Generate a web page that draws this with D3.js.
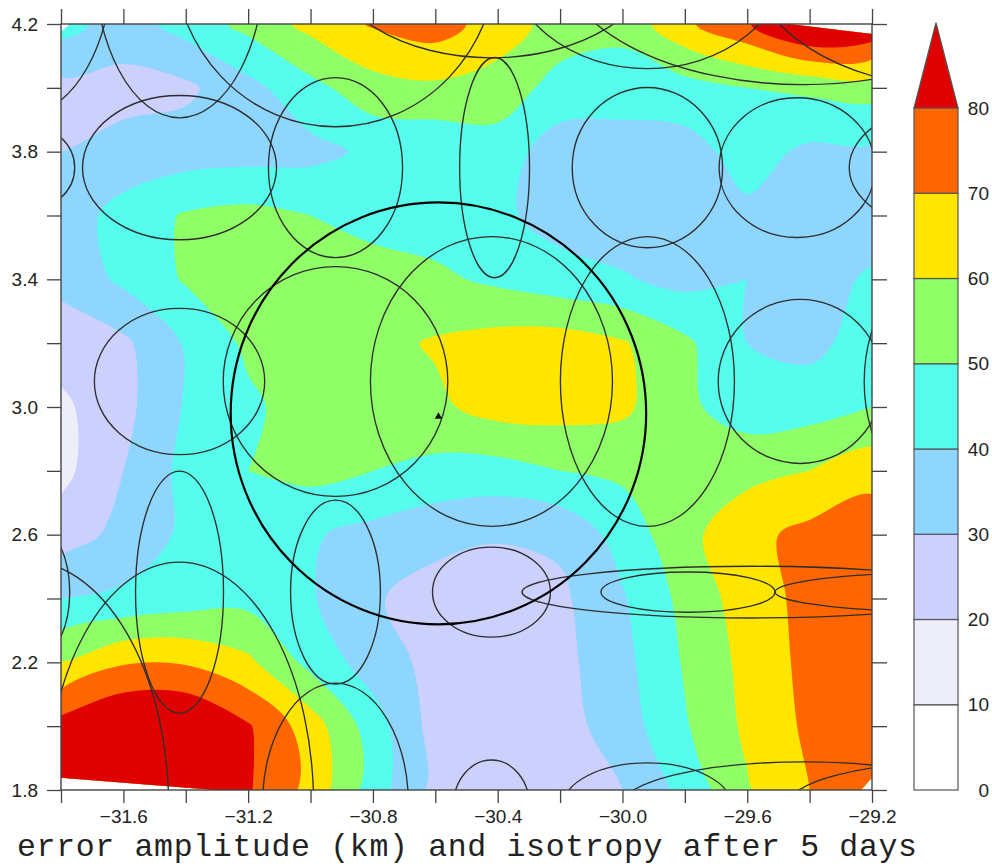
<!DOCTYPE html>
<html>
<head>
<meta charset="utf-8">
<script src="https://cdn.jsdelivr.net/npm/d3@7"></script>
<style>
  body { margin: 0; background: #ffffff; }
  .tick text { font-family: "Liberation Sans", Arial, sans-serif; font-size: 19px; fill: #222; }
  .tick line { stroke: #444; stroke-width: 1.3; }
</style>
</head>
<body>
<div id="chart"></div>
<script>
var svgWidth = 992;
var svgHeight = 866;

var margin = {
  top: 24,
  right: 120,
  bottom: 76,
  left: 61
};

var width = svgWidth - margin.left - margin.right;
var height = svgHeight - margin.top - margin.bottom;

// error amplitude (km) on the model grid, rows from 4.2 down to 1.8, columns from -31.8 to -29.2
var gridLon = [-31.8, -31.6, -31.4, -31.2, -31.0, -30.8, -30.6, -30.4, -30.2, -30.0, -29.8, -29.6, -29.4, -29.2];
var gridLat = [4.2, 4.0, 3.8, 3.6, 3.4, 3.2, 3.0, 2.8, 2.6, 2.4, 2.2, 2.0, 1.8];
var amplitude = [
  [44, 35, 44, 53, 63, 71, 75, 65, 56, 53, 68, 79, 95, 90],
  [27, 27, 28, 37, 47, 56, 58, 56, 46, 45, 46, 50, 52, 54],
  [30, 33, 35, 36, 37, 42, 42, 45, 35, 35, 36, 44, 38, 38],
  [34, 44, 51, 53, 50, 46, 45, 42, 36, 34, 34, 38, 36, 36],
  [33, 42, 51, 55, 56, 55, 52, 48, 44, 41, 37, 40, 37, 41],
  [24, 28, 41, 52, 56, 57, 61, 64, 65, 61, 52, 40, 37, 45],
  [18, 27, 41, 48, 55, 57, 58, 64, 64, 62, 52, 45, 46, 50],
  [17, 30, 43, 50, 53, 50, 47, 46, 50, 52, 55, 57, 60, 66],
  [25, 33, 42, 46, 41, 37, 33, 31, 32, 44, 57, 67, 73, 77],
  [40, 42, 45, 47, 41, 31, 26, 24, 28, 39, 53, 65, 73, 76],
  [60, 69, 69, 62, 47, 35, 27, 24, 27, 37, 51, 63, 73, 76],
  [84, 92, 92, 81, 65, 45, 26, 24, 26, 35, 49, 62, 72, 76],
  [86, 92, 90, 81, 67, 45, 27, 24, 25, 30, 43, 59, 70, 74]
];

// outline of the area that the model grid covers
var coverageLon = [-31.8, -31.771, -29.466, -29.2, -29.2, -29.235, -31.306, -31.8];
var coverageLat = [4.175, 4.2, 4.2, 4.169, 1.838, 1.8, 1.8, 1.838];

// contour levels and fill colours (first colour is below 10, last is above 80)
var levels = [10, 20, 30, 40, 50, 60, 70, 80];
var levelColors = ["#ffffff", "#eeeef8", "#ccd0fc", "#8ed6fe", "#56fdec", "#90fe66", "#ffe600", "#ff6600", "#e00000"];
var colorbarTicks = [0, 10, 20, 30, 40, 50, 60, 70, 80];

// isotropy ellipses: centre lon/lat and semi-axes in degrees
var ellipseLon = [-31.92, -31.42, -30.92, -30.42, -29.92, -29.42, -28.92,
  -31.92, -31.42, -30.92, -30.41, -29.92, -29.44, -28.92,
  -31.42, -30.92, -30.42, -29.92, -29.43, -28.92,
  -31.92, -31.42, -30.92, -30.42, -29.79, -29.59, -28.92,
  -31.92, -31.42, -30.92, -30.42, -29.92, -29.42, -28.92];
var ellipseLat = [4.42, 4.42, 4.42, 4.42, 4.42, 4.42, 4.42,
  3.75, 3.75, 3.75, 3.75, 3.75, 3.75, 3.75,
  3.08, 3.08, 3.08, 3.08, 3.08, 3.08,
  2.42, 2.42, 2.42, 2.42, 2.42, 2.42, 2.42,
  1.75, 1.75, 1.75, 1.75, 1.75, 1.75, 1.75];
var ellipseRx = [0.289, 0.276, 0.520, 0.530, 0.453, 0.787, 0.677,
  0.164, 0.311, 0.215, 0.112, 0.241, 0.250, 0.353,
  0.273, 0.360, 0.388, 0.279, 0.263, 0.305,
  0.148, 0.141, 0.144, 0.189, 0.279, 0.732, 0.591,
  0.465, 0.430, 0.234, 0.122, 0.270, 0.584, 0.552];
var ellipseRy = [0.504, 0.514, 0.542, 0.326, 0.360, 0.410, 0.420,
  0.138, 0.226, 0.282, 0.345, 0.251, 0.219, 0.204,
  0.229, 0.360, 0.454, 0.454, 0.257, 0.401,
  0.238, 0.379, 0.288, 0.141, 0.063, 0.081, 0.063,
  0.771, 0.764, 0.385, 0.144, 0.135, 0.138, 0.138];

// the large reference circle and its centre point
var refLon = -30.59;
var refLat = 2.98;
var refRx = 0.666;
var refRy = 0.661;

// axis ticks
var xTicks = [-31.8, -31.6, -31.4, -31.2, -31.0, -30.8, -30.6, -30.4, -30.2, -30.0, -29.8, -29.6, -29.4, -29.2];
var xTickLabels = [-31.6, -31.2, -30.8, -30.4, -30.0, -29.6, -29.2];
var yTicks = [1.8, 2.0, 2.2, 2.4, 2.6, 2.8, 3.0, 3.2, 3.4, 3.6, 3.8, 4.0, 4.2];
var yTickLabels = [1.8, 2.2, 2.6, 3.0, 3.4, 3.8, 4.2];

var title = "error amplitude (km) and isotropy after 5 days";

var svg = d3.select("#chart")
  .append("svg")
  .attr("width", svgWidth)
  .attr("height", svgHeight);

var chartGroup = svg.append("g")
  .attr("transform", `translate(${margin.left}, ${margin.top})`);

var x = d3.scaleLinear().domain([-31.8, -29.2]).range([0, width]);
var y = d3.scaleLinear().domain([1.8, 4.2]).range([height, 0]);

// clip paths: plot frame and grid coverage
var defs = svg.append("defs");
defs.append("clipPath")
  .attr("id", "plot-clip")
  .append("rect")
  .attr("width", width)
  .attr("height", height);

var coveragePoints = coverageLon.map((lon, i) => [x(lon), y(coverageLat[i])]);
defs.append("clipPath")
  .attr("id", "coverage-clip")
  .append("path")
  .attr("d", d3.line()(coveragePoints) + "Z");

// filled contours
var nx = gridLon.length;
var ny = gridLat.length;
var lonStep = gridLon[1] - gridLon[0];
var latStep = gridLat[1] - gridLat[0];

var contours = d3.contours()
  .size([nx, ny])
  .thresholds(levels)(d3.merge(amplitude));

// d3.contours puts sample i at i + 0.5
function gridToScreen(p) {
  return [x(gridLon[0] + (p[0] - 0.5) * lonStep), y(gridLat[0] + (p[1] - 0.5) * latStep)];
}

// round off the marching-squares corners a little
var smoothRing = d3.line().curve(d3.curveCatmullRomClosed.alpha(0.5));

function bandPath(multi) {
  return multi.coordinates.map(polygon => polygon.map(ring => {
    return smoothRing(ring.slice(0, -1).map(gridToScreen));
  }).join("")).join("");
}

var fillGroup = chartGroup.append("g")
  .attr("clip-path", "url(#coverage-clip)");

fillGroup.append("path")
  .attr("d", d3.line()(coveragePoints) + "Z")
  .attr("fill", levelColors[0]);

fillGroup.selectAll("path.band")
  .data(contours)
  .enter()
  .append("path")
  .classed("band", true)
  .attr("d", bandPath)
  .attr("fill-rule", "evenodd")
  .attr("fill", (d, i) => levelColors[i + 1]);

// ellipses
var ellipseGroup = chartGroup.append("g")
  .attr("clip-path", "url(#plot-clip)");

ellipseGroup.selectAll("ellipse")
  .data(ellipseLon)
  .enter()
  .append("ellipse")
  .attr("cx", d => x(d))
  .attr("cy", (d, i) => y(ellipseLat[i]))
  .attr("rx", (d, i) => x(d + ellipseRx[i]) - x(d))
  .attr("ry", (d, i) => y(ellipseLat[i] - ellipseRy[i]) - y(ellipseLat[i]))
  .attr("fill", "none")
  .attr("stroke", "#2e2e2e")
  .attr("stroke-width", 1.35);

ellipseGroup.append("ellipse")
  .attr("cx", x(refLon))
  .attr("cy", y(refLat))
  .attr("rx", x(refLon + refRx) - x(refLon))
  .attr("ry", y(refLat - refRy) - y(refLat))
  .attr("fill", "none")
  .attr("stroke", "#000")
  .attr("stroke-width", 2.2);

ellipseGroup.append("path")
  .attr("transform", `translate(${x(refLon)}, ${y(refLat - 0.01)})`)
  .attr("d", d3.symbol().type(d3.symbolTriangle).size(24))
  .attr("fill", "#111");

// axes
var fmt = d3.format(".1f");
var xLabelFormat = d => xTickLabels.some(v => Math.abs(v - d) < 1e-6) ? fmt(d) : "";
var yLabelFormat = d => yTickLabels.some(v => Math.abs(v - d) < 1e-6) ? fmt(d) : "";

chartGroup.append("g")
  .attr("transform", `translate(0, ${height})`)
  .call(d3.axisBottom(x).tickValues(xTicks).tickSize(13).tickSizeOuter(0).tickPadding(7).tickFormat(xLabelFormat))
  .call(g => g.select(".domain").remove());

chartGroup.append("g")
  .call(d3.axisTop(x).tickValues(xTicks).tickSize(15).tickSizeOuter(0).tickFormat(""))
  .call(g => g.select(".domain").remove());

chartGroup.append("g")
  .call(d3.axisLeft(y).tickValues(yTicks).tickSize(14).tickSizeOuter(0).tickPadding(9).tickFormat(yLabelFormat))
  .call(g => g.select(".domain").remove());

chartGroup.append("g")
  .attr("transform", `translate(${width}, 0)`)
  .call(d3.axisRight(y).tickValues(yTicks).tickSize(15).tickSizeOuter(0).tickFormat(""))
  .call(g => g.select(".domain").remove());

chartGroup.selectAll(".tick text").attr("font-family", null).attr("font-size", null);

// plot frame
chartGroup.append("rect")
  .attr("width", width)
  .attr("height", height)
  .attr("fill", "none")
  .attr("stroke", "#444")
  .attr("stroke-width", 1.4);

// colour bar
var barX = 914;
var barWidth = 44;
var cbY = d3.scaleLinear().domain([0, 80]).range([margin.top + height, 108]);
var bandHeight = cbY(0) - cbY(10);

var barGroup = svg.append("g");

barGroup.selectAll("rect")
  .data(colorbarTicks.slice(0, -1))
  .enter()
  .append("rect")
  .attr("x", barX)
  .attr("y", d => cbY(d + 10))
  .attr("width", barWidth)
  .attr("height", bandHeight)
  .attr("fill", (d, i) => levelColors[i])
  .attr("stroke", "#555")
  .attr("stroke-width", 1.2);

barGroup.append("path")
  .attr("d", d3.line()([[barX, cbY(80)], [barX + barWidth / 2, cbY(80) - bandHeight], [barX + barWidth, cbY(80)]]) + "Z")
  .attr("fill", levelColors[levelColors.length - 1])
  .attr("stroke", "#555")
  .attr("stroke-width", 1.2);

barGroup.selectAll("text")
  .data(colorbarTicks)
  .enter()
  .append("text")
  .attr("x", 989)
  .attr("y", d => cbY(d))
  .attr("dy", "0.35em")
  .attr("text-anchor", "end")
  .attr("font-family", "Liberation Sans, Arial, sans-serif")
  .attr("font-size", 19)
  .attr("fill", "#222")
  .text(d => d);

// title under the plot
svg.append("text")
  .attr("x", 17)
  .attr("y", 856)
  .attr("font-family", "Liberation Mono, Courier New, monospace")
  .attr("font-size", 31.5)
  .attr("fill", "#222")
  .attr("textLength", 900)
  .attr("lengthAdjust", "spacing")
  .text(title);
</script>
</body>
</html>
